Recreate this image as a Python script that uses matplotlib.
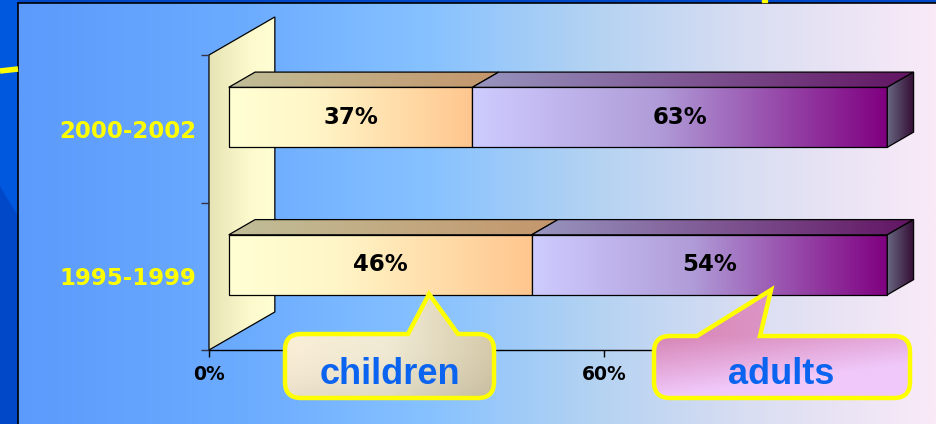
import numpy as np
import matplotlib
matplotlib.use('Agg')
import matplotlib.pyplot as plt
from matplotlib.patches import Polygon, PathPatch, Rectangle
from matplotlib.path import Path
from matplotlib.colors import LinearSegmentedColormap

# ---------------- data ----------------
categories = ['1995-1999', '2000-2002']
children = [46, 37]
adults = [54, 63]
x_ticks = [0, 20, 40, 60, 80, 100]
x_tick_labels = ['0%', '20%', '40%', '60%', '80%', '100%']
x_labels_hidden_by_callouts = ['20%', '40%', '80%', '100%']
series_names = ['children', 'adults']

plt.rcParams['font.family'] = ['DejaVu Sans']

W, H = 937, 424
fig = plt.figure(figsize=(W / 100, H / 100), dpi=100)


def rgb(*c):
    return tuple(v / 255 for v in c)


def cmap_from(stops, name='c'):
    return LinearSegmentedColormap.from_list(name, [(p, rgb(*c)) for p, c in stops])


# ---------------- background ----------------
bg = fig.add_axes([0, 0, 1, 1], zorder=0)
bg.axis('off')
bg.add_patch(Rectangle((0, 0), W, H, color=rgb(0, 72, 200), zorder=0))
bg.add_patch(Polygon([(0, 0), (18, 0), (18, 215), (0, 185)], color=rgb(0, 88, 222), zorder=0.1))
bg_stops = [(0, (92, 154, 252)), (0.25, (108, 172, 255)), (0.45, (135, 194, 255)),
            (0.62, (178, 210, 242)), (0.8, (218, 222, 242)), (1.0, (250, 234, 248))]
bg.imshow(np.linspace(0, 1, 512)[None, :], cmap=cmap_from(bg_stops), extent=(18, W, H, 3),
          aspect='auto', interpolation='bilinear', zorder=0.5)
bg.plot([18, 18], [3, H], color='black', lw=1.2, zorder=1)
bg.plot([18, W], [3, 3], color='black', lw=1.2, zorder=1)
bg.plot([0, 18], [71, 69], color=rgb(255, 255, 0), lw=4, solid_capstyle='butt', zorder=1)
bg.add_patch(Rectangle((762, 0), 5, 2, color=rgb(255, 255, 0), zorder=1))
bg.set_xlim(0, W)
bg.set_ylim(H, 0)

# ---------------- main 3D-like bar axes ----------------
ax = fig.add_axes([209 / W, 74 / H, 658.5 / W, 295 / H], zorder=1)
ax.patch.set_visible(False)

DX, DY = 10.0, 0.258      # full depth vector (data units)
D0, D1 = 0.30, 0.70       # bar depth fraction range
BAR_H = 0.407


def grad_face(verts, stops, z, lw=0.9):
    poly = Polygon(verts, closed=True, fill=False, edgecolor='black', lw=lw,
                   zorder=z + 0.01, clip_on=False, joinstyle='miter')
    ax.add_patch(poly)
    xs = [v[0] for v in verts]
    ys = [v[1] for v in verts]
    im = ax.imshow(np.linspace(0, 1, 256)[None, :], cmap=cmap_from(stops),
                   extent=(min(xs), max(xs), min(ys), max(ys)), origin='lower',
                   aspect='auto', interpolation='bilinear', zorder=z)
    im.set_clip_path(poly)
    im.set_clip_box(fig.bbox)
    return poly


# back wall
grad_face([(0, 0), (DX, DY), (DX, 2 + DY), (0, 2)],
          [(0, (230, 228, 180)), (0.6, (252, 250, 205)), (1, (255, 255, 212))], 1)

child_front = [(0, (255, 255, 212)), (0.35, (255, 246, 200)), (1, (255, 198, 142))]
child_top = [(0, (192, 190, 152)), (1, (196, 150, 108))]
adult_front = [(0, (206, 204, 255)), (0.45, (176, 156, 216)), (1, (128, 0, 128))]
adult_top = [(0, (152, 150, 192)), (1, (98, 20, 98))]
side_stops = [(0, (104, 104, 130)), (1, (52, 12, 52))]

ypos = np.arange(len(categories)) + 0.5
ox0, oy0 = D0 * DX, D0 * DY
ox1, oy1 = D1 * DX, D1 * DY
z = 2
for i in range(len(categories)):
    yc = ypos[i]
    y0, y1 = yc - BAR_H / 2, yc + BAR_H / 2
    segs = [(0, children[i], child_front, child_top),
            (children[i], children[i] + adults[i], adult_front, adult_top)]
    for xa, xb, fst, tst in segs:
        grad_face([(xa + ox0, y0 + oy0), (xb + ox0, y0 + oy0), (xb + ox0, y1 + oy0), (xa + ox0, y1 + oy0)], fst, z)
        grad_face([(xa + ox0, y1 + oy0), (xb + ox0, y1 + oy0), (xb + ox1, y1 + oy1), (xa + ox1, y1 + oy1)], tst, z + 0.1)
        ax.text((xa + xb) / 2 + ox0, yc + oy0, f'{xb - xa}%', ha='center', va='center',
                fontsize=16.5, fontweight='bold', color='black', zorder=z + 0.5)
        z += 1
    xe = children[i] + adults[i]
    grad_face([(xe + ox0, y0 + oy0), (xe + ox1, y0 + oy1), (xe + ox1, y1 + oy1), (xe + ox0, y1 + oy0)], side_stops, z)
    z += 1

ax.set_xlim(0, 100)
ax.set_ylim(0, 2)
for s in ['top', 'right', 'left']:
    ax.spines[s].set_visible(False)
ax.spines['bottom'].set_color('black')
ax.spines['bottom'].set_linewidth(1)

ax.set_xticks(x_ticks)
ax.set_xticklabels(x_tick_labels, fontsize=13.5, fontweight='bold', color='black')
ax.tick_params(axis='x', direction='out', length=5, width=1, color='black', pad=6)
for lab in ax.get_xticklabels():
    if lab.get_text() in x_labels_hidden_by_callouts:
        lab.set_visible(False)

ax.set_yticks(ypos)
ax.set_yticklabels(categories, fontsize=16.5, fontweight='bold', color=rgb(255, 255, 0))
ax.tick_params(axis='y', which='major', length=0, pad=9)
ax.set_yticks([0, 1, 2], minor=True)
ax.tick_params(axis='y', which='minor', direction='out', length=6, width=1, color='#333344')

# ---------------- callouts ----------------
ov = fig.add_axes([0, 0, 1, 1], zorder=5)
ov.patch.set_visible(False)
ov.axis('off')


def callout(x0, y0, x1, y1, r, bl, br, tip, cfun, label, tx, ty):
    M, L, C = Path.MOVETO, Path.LINETO, Path.CURVE3
    verts = [(x0 + r, y0), (bl, y0), tip, (br, y0), (x1 - r, y0),
             (x1, y0), (x1, y0 + r), (x1, y1 - r), (x1, y1), (x1 - r, y1),
             (x0 + r, y1), (x0, y1), (x0, y1 - r), (x0, y0 + r), (x0, y0), (x0 + r, y0), (x0 + r, y0)]
    codes = [M, L, L, L, L, C, C, L, C, C, L, C, C, L, C, C, Path.CLOSEPOLY]
    path = Path(verts, codes)
    patch = PathPatch(path, fill=False, edgecolor=rgb(255, 255, 0), lw=3.2, zorder=2, joinstyle='miter')
    ov.add_patch(patch)
    ny, nx = 60, 120
    top = tip[1]
    u = np.linspace(0, 1, nx)[None, :]
    v = np.linspace(0, 1, ny)[:, None]
    yy = top + v * (y1 - top)
    vv = np.clip((yy - y0) / (y1 - y0), 0, 1)
    img = cfun(u * np.ones_like(vv), vv * np.ones_like(u))
    im = ov.imshow(img, extent=(x0, x1, y1, top), origin='upper', aspect='auto',
                   interpolation='bilinear', zorder=1)
    im.set_clip_path(patch)
    ov.text(tx, ty, label, ha='center', va='center', fontsize=26, fontweight='bold',
            color=rgb(10, 100, 240), family=['Liberation Sans', 'DejaVu Sans'], zorder=3)


def child_fill(u, v):
    left = np.array(rgb(250, 238, 214))
    mid = np.array(rgb(240, 234, 212))
    right = np.array(rgb(214, 202, 170))
    uu = u[..., None]
    col = np.where(uu < 0.5, left + (mid - left) * (uu / 0.5), mid + (right - mid) * ((uu - 0.5) / 0.5))
    shade = 1 - 0.07 * v[..., None] ** 2
    return np.clip(col * shade, 0, 1)


def adult_fill(u, v):
    pink = np.array(rgb(214, 132, 180))
    lav = np.array(rgb(240, 200, 250))
    s = np.clip(0.55 * u + 1.0 * v, 0, 1)[..., None]
    return pink + (lav - pink) * s


callout(285, 334, 494, 398, 16, 408, 458, (429, 294), child_fill, series_names[0], 390, 374)
callout(654, 336, 910, 398, 16, 697, 760, (771, 290), adult_fill, series_names[1], 781, 374)

ov.set_xlim(0, W)
ov.set_ylim(H, 0)

fig.savefig('out.png', dpi=100)
